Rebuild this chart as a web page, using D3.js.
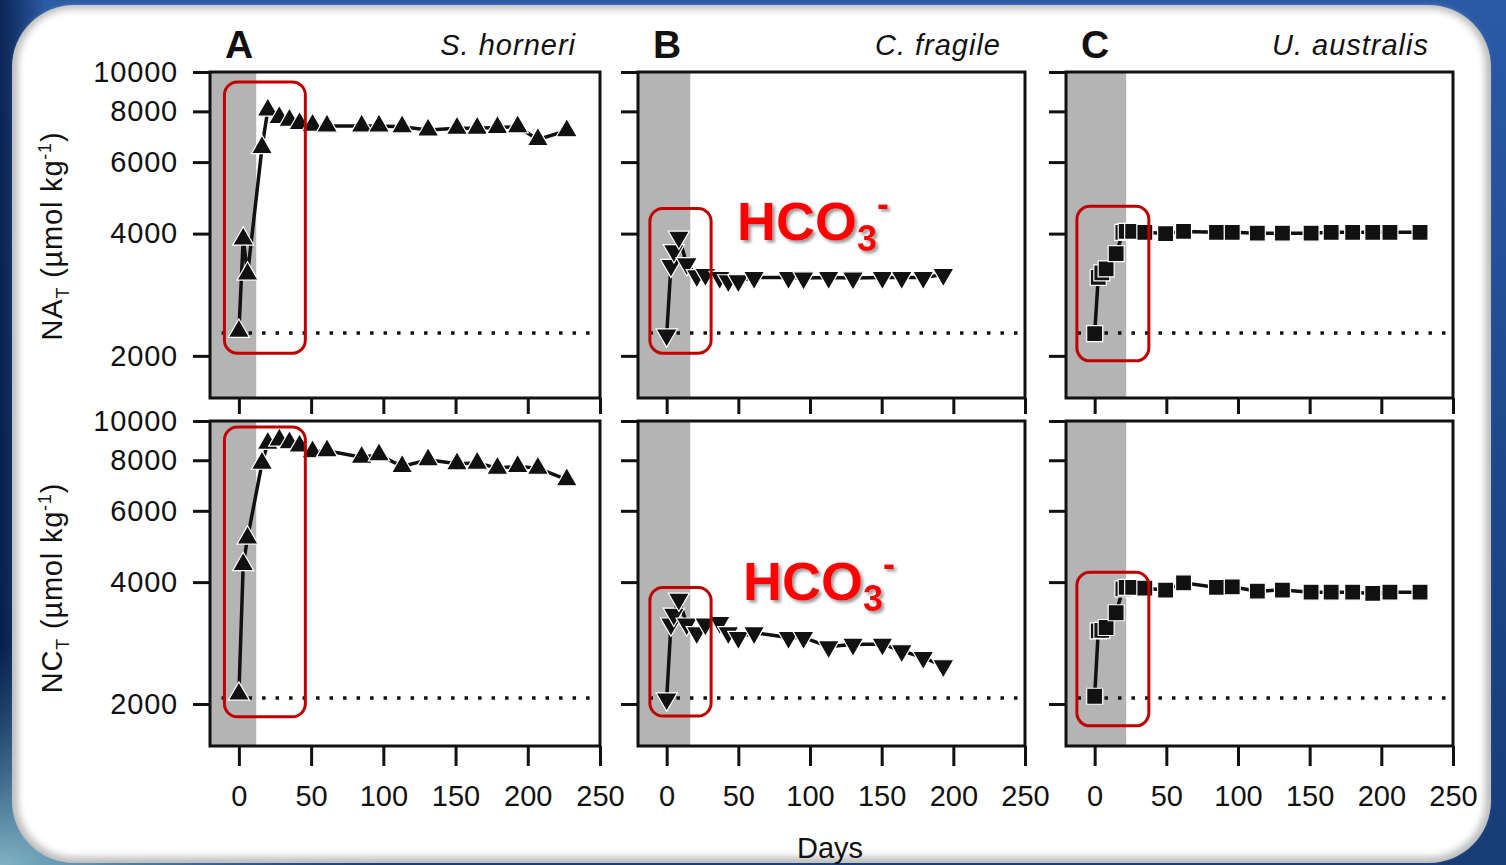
<!DOCTYPE html>
<html>
<head>
<meta charset="utf-8">
<script src="https://cdnjs.cloudflare.com/ajax/libs/d3/7.8.5/d3.min.js"></script>
<style>
body { margin: 0; overflow: hidden; background: #1d4a8e; }
svg { display: block; font-family: "Liberation Sans", Arial, sans-serif; }
</style>
</head>
<body>
<svg></svg>
<script>
// sampling days per alga
let daysA = [0, 3, 6, 16, 20, 28, 35, 42, 51, 61, 85, 97, 113, 131, 151, 165, 179, 193, 207, 227]
let daysB = [0, 3, 5, 8.5, 14, 21, 27, 37, 43, 50, 61, 85, 95.5, 113, 130, 150.5, 164, 179, 193]
let daysC = [0, 2.5, 5, 8, 15, 19.7, 22, 26.5, 35, 49.5, 62, 85, 96, 113.5, 131, 151, 165, 180, 194, 206, 227]

// NA_T (umol/kg)
let naA = [2300, 3880, 3180, 6515, 8060, 7730, 7610, 7470, 7400, 7360, 7360, 7360, 7330, 7200, 7270, 7270, 7300, 7330, 6820, 7170]
let naB = [2250, 3340, 3630, 3920, 3370, 3150, 3170, 3120, 3060, 3060, 3120, 3120, 3110, 3120, 3110, 3120, 3120, 3120, 3170]
let naC = [2270, 3120, 3200, 3275, 3570, 4030, 4050, 4050, 4030, 4000, 4050, 4030, 4030, 4010, 4010, 4010, 4030, 4030, 4030, 4030, 4030]

// NC_T (umol/kg)
let ncA = [2116, 4420, 5140, 7870, 8810, 8980, 8840, 8680, 8400, 8440, 8140, 8250, 7720, 8020, 7840, 7870, 7650, 7720, 7650, 7160]
let ncB = [2057, 3150, 3330, 3630, 3150, 3000, 3150, 3180, 3000, 2920, 3000, 2920, 2920, 2770, 2810, 2810, 2705, 2605, 2484]
let ncC = [2090, 3030, 3040, 3090, 3360, 3850, 3880, 3880, 3865, 3823, 3985, 3880, 3895, 3800, 3823, 3778, 3778, 3778, 3750, 3778, 3778]

// seawater reference level (dotted)
let seawater = [2277, 2069]

let xTicks = [0, 50, 100, 150, 200, 250]
let yTicks = [2000, 4000, 6000, 8000, 10000]
let letters = ['A', 'B', 'C']
let species = ['S. horneri', 'C. fragile', 'U. australis']
let shadeEnd = [12, 16.5, 22]

// red highlight boxes: [day from, day to, value top, value bottom]
let boxNA = [[-10, 46, 9450, 2030], [-11.7, 31, 4615, 2030], [-12.4, 37.8, 4670, 1944]]
let boxNC = [[-10, 46, 9670, 1860], [-11.7, 31, 3880, 1868], [-12.4, 37.8, 4230, 1766]]

let width = 1506
let height = 865
let colX = [[210, 600], [638, 1025], [1066, 1453]]
let rowY = [[72, 398], [421, 746]]

let panels = [
    { days: daysA, rows: [naA, ncA], shape: 'up' },
    { days: daysB, rows: [naB, ncB], shape: 'down' },
    { days: daysC, rows: [naC, ncC], shape: 'square' }
]

let svg = d3.select('svg').attr('width', width).attr('height', height)

let drawBackground = () => {
    let defs = svg.append('defs')

    let bg = defs.append('linearGradient').attr('id', 'bg')
        .attr('x1', 0).attr('y1', 0).attr('x2', 0).attr('y2', 1)
    bg.append('stop').attr('offset', 0).attr('stop-color', '#2b5aa5')
    bg.append('stop').attr('offset', 0.6).attr('stop-color', '#1b4688')
    bg.append('stop').attr('offset', 1).attr('stop-color', '#173d76')

    let side = defs.append('linearGradient').attr('id', 'side')
    side.append('stop').attr('offset', 0).attr('stop-color', '#04173f').attr('stop-opacity', 0.8)
    side.append('stop').attr('offset', 0.03).attr('stop-color', '#04173f').attr('stop-opacity', 0)
    side.append('stop').attr('offset', 1).attr('stop-color', '#04173f').attr('stop-opacity', 0)

    let teal = defs.append('radialGradient').attr('id', 'teal')
        .attr('cx', 0).attr('cy', 1).attr('r', 0.25)
    teal.append('stop').attr('offset', 0).attr('stop-color', '#7fb3c4')
    teal.append('stop').attr('offset', 1).attr('stop-color', '#3c7aa0').attr('stop-opacity', 0)

    let blur = defs.append('filter').attr('id', 'soft')
    blur.append('feGaussianBlur').attr('stdDeviation', 3.5)

    let shadow = defs.append('filter').attr('id', 'shadow')
        .attr('x', '-10%').attr('y', '-10%').attr('width', '130%').attr('height', '140%')
    shadow.append('feDropShadow').attr('dx', 2.5).attr('dy', 2.5).attr('stdDeviation', 1.5)
        .attr('flood-color', '#777').attr('flood-opacity', 0.75)

    svg.append('rect').attr('width', width).attr('height', height).attr('fill', 'url(#bg)')
    svg.append('rect').attr('width', width).attr('height', height).attr('fill', 'url(#side)')
    svg.append('rect').attr('width', width).attr('height', height).attr('fill', 'url(#teal)')

    svg.append('rect')
        .attr('x', 12).attr('y', 5).attr('width', 1479).attr('height', 858)
        .attr('rx', 62).attr('fill', '#bdbdbd')
    svg.append('rect')
        .attr('x', 18).attr('y', 9).attr('width', 1467).attr('height', 848)
        .attr('rx', 56).attr('fill', 'white').attr('filter', 'url(#soft)')
}

let symbolFor = (shape) => {
    if (shape === 'square') return d3.symbol().type(d3.symbolSquare).size(256)
    return d3.symbol().type(d3.symbolTriangle).size(195)
}

let drawPanel = (col, row) => {
    let p = panels[col]
    let values = p.rows[row]
    let [x0, x1] = colX[col]
    let [y0, y1] = rowY[row]

    let xScale = d3.scaleLinear().domain([-20, 250]).range([x0, x1])
    let yScale = d3.scaleLog().domain([1575, 10000]).range([y1, y0])

    let g = svg.append('g')

    g.append('rect')
        .attr('x', x0).attr('y', y0)
        .attr('width', x1 - x0).attr('height', y1 - y0)
        .attr('fill', 'white')

    g.append('rect')
        .attr('x', x0).attr('y', y0)
        .attr('width', xScale(shadeEnd[col]) - x0).attr('height', y1 - y0)
        .attr('fill', '#b4b4b4')

    g.append('line')
        .attr('x1', xScale(-12)).attr('x2', xScale(249))
        .attr('y1', yScale(seawater[row])).attr('y2', yScale(seawater[row]))
        .attr('stroke', '#111').attr('stroke-width', 3.5)
        .attr('stroke-dasharray', '3.5,10')

    let pts = p.days.map((d, i) => [d, values[i]])

    let line = d3.line().x(d => xScale(d[0])).y(d => yScale(d[1]))
    g.append('path')
        .attr('d', line(pts))
        .attr('fill', 'none')
        .attr('stroke', '#111')
        .attr('stroke-width', 3.5)

    let sym = symbolFor(p.shape)
    g.selectAll('.pt')
        .data(pts)
        .enter()
        .append('path')
        .attr('class', 'pt')
        .attr('d', sym())
        .attr('transform', d => 'translate(' + xScale(d[0]) + ',' + yScale(d[1]) + ')' + (p.shape === 'down' ? ' rotate(180)' : ''))
        .attr('fill', '#111')
        .attr('stroke', 'white')
        .attr('stroke-width', 1.2)

    let box = (row === 0 ? boxNA : boxNC)[col]
    g.append('rect')
        .attr('x', xScale(box[0])).attr('y', yScale(box[2]))
        .attr('width', xScale(box[1]) - xScale(box[0]))
        .attr('height', yScale(box[3]) - yScale(box[2]))
        .attr('rx', 13)
        .attr('fill', 'none')
        .attr('stroke', '#c00000')
        .attr('stroke-width', 3)

    g.append('rect')
        .attr('x', x0).attr('y', y0)
        .attr('width', x1 - x0).attr('height', y1 - y0)
        .attr('fill', 'none')
        .attr('stroke', '#111')
        .attr('stroke-width', 3)

    let xAxis = d3.axisBottom(xScale)
        .tickValues(xTicks)
        .tickSize(row === 0 ? 16 : 20)
        .tickPadding(19)
        .tickFormat(row === 0 ? '' : d => d)

    let xg = g.append('g')
        .attr('transform', 'translate(0,' + y1 + ')')
        .call(xAxis)
    xg.select('.domain').remove()
    xg.selectAll('line').attr('stroke', '#111').attr('stroke-width', 3)
    xg.selectAll('text').attr('font-size', 29).attr('fill', '#111').attr('font-family', '"Liberation Sans", Arial, sans-serif')

    let yAxis = d3.axisLeft(yScale)
        .tickValues(yTicks)
        .tickSize(17)
        .tickPadding(15)
        .tickFormat(col === 0 ? d => d : '')

    let yg = g.append('g')
        .attr('transform', 'translate(' + x0 + ',0)')
        .call(yAxis)
    yg.select('.domain').remove()
    yg.selectAll('line').attr('stroke', '#111').attr('stroke-width', 3)
    yg.selectAll('text').attr('font-size', 29).attr('letter-spacing', 0.8).attr('fill', '#111').attr('font-family', '"Liberation Sans", Arial, sans-serif')

    if (row === 0) {
        svg.append('text')
            .attr('x', x0 + 15).attr('y', 58)
            .attr('font-size', 39).attr('font-weight', 'bold').attr('fill', '#111')
            .text(letters[col])
        svg.append('text')
            .attr('x', x1 - 24).attr('y', 55)
            .attr('text-anchor', 'end')
            .attr('font-size', 29).attr('font-style', 'italic')
            .attr('letter-spacing', 1).attr('fill', '#111')
            .text(species[col])
    }
}

let drawLabels = () => {
    let titles = [['NA', 236], ['NC', 588]]
    titles.forEach(t => {
        let txt = svg.append('text')
            .attr('transform', 'translate(62,' + t[1] + ') rotate(-90)')
            .attr('text-anchor', 'middle')
            .attr('font-size', 29)
            .attr('letter-spacing', 0.8)
            .attr('fill', '#111')
        txt.append('tspan').text(t[0])
        txt.append('tspan').attr('font-size', 18).attr('dy', 7).text('T')
        txt.append('tspan').attr('dy', -7).text(' (µmol kg')
        txt.append('tspan').attr('font-size', 18).attr('dy', -11).text('-1')
        txt.append('tspan').attr('dy', 11).text(')')
    })

    svg.append('text')
        .attr('x', 830).attr('y', 858)
        .attr('text-anchor', 'middle')
        .attr('font-size', 29).attr('fill', '#111')
        .text('Days')

    let hco = [[737, 240], [743, 600]]
    hco.forEach(h => {
        let txt = svg.append('text')
            .attr('x', h[0]).attr('y', h[1])
            .attr('font-size', 54).attr('font-weight', 'bold')
            .attr('fill', '#ff0000')
            .attr('filter', 'url(#shadow)')
        txt.append('tspan').text('HCO')
        txt.append('tspan').attr('font-size', 36).attr('dy', 11).text('3')
        txt.append('tspan').attr('font-size', 36).attr('dy', -35).text('-')
    })
}

drawBackground()
for (let row = 0; row < 2; row++) {
    for (let col = 0; col < 3; col++) {
        drawPanel(col, row)
    }
}
drawLabels()
</script>
</body>
</html>
